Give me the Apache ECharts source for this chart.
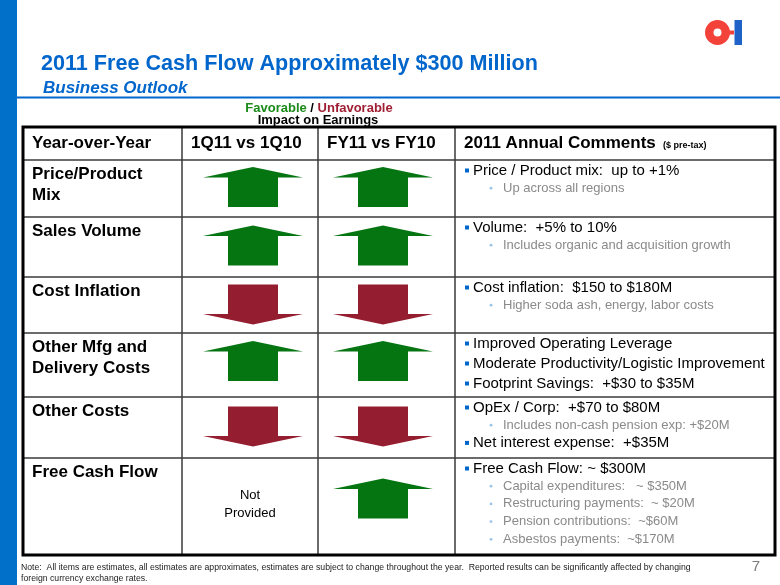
<!DOCTYPE html>
<html><head><meta charset="utf-8">
<script src="https://cdn.jsdelivr.net/npm/echarts@6/dist/echarts.min.js"></script>
<style>html,body{margin:0;padding:0;background:#fff}#c{width:780px;height:585px}</style>
</head><body><div id="c"></div>
<script>
// ---------- content ----------
const titleText = '2011 Free Cash Flow Approximately $300 Million';
const subtitleText = 'Business Outlook';
const legendFavorable = 'Favorable';
const legendUnfavorable = 'Unfavorable';
const legendCaption = 'Impact on Earnings';
const headers = ['Year-over-Year', '1Q11 vs 1Q10', 'FY11 vs FY10', '2011 Annual Comments'];
const headerNote = '($ pre-tax)';
const rowLabels = [['Price/Product', 'Mix'], ['Sales Volume'], ['Cost Inflation'], ['Other Mfg and', 'Delivery Costs'], ['Other Costs'], ['Free Cash Flow']];
const impact1Q = ['up', 'up', 'down', 'up', 'down', null];
const impactFY = ['up', 'up', 'down', 'up', 'down', 'up'];
const notProvided = ['Not', 'Provided'];
const comments = [
  [[1, 'Price / Product mix:  up to +1%'], [2, 'Up across all regions']],
  [[1, 'Volume:  +5% to 10%'], [2, 'Includes organic and acquisition growth']],
  [[1, 'Cost inflation:  $150 to $180M'], [2, 'Higher soda ash, energy, labor costs']],
  [[1, 'Improved Operating Leverage'], [1, 'Moderate Productivity/Logistic Improvement'], [1, 'Footprint Savings:  +$30 to $35M']],
  [[1, 'OpEx / Corp:  +$70 to $80M'], [2, 'Includes non-cash pension exp: +$20M'], [1, 'Net interest expense:  +$35M']],
  [[1, 'Free Cash Flow: ~ $300M'], [2, 'Capital expenditures:   ~ $350M'], [2, 'Restructuring payments:  ~ $20M'], [2, 'Pension contributions:  ~$60M'], [2, 'Asbestos payments:  ~$170M']]
];
const noteLines = [
  'Note:  All items are estimates, all estimates are approximates, estimates are subject to change throughout the year.  Reported results can be significantly affected by changing',
  'foreign currency exchange rates.'
];
const pageNumber = '7';

// ---------- layout (pixels) ----------
const colEdges = [23, 182, 318, 455, 775];
const rowEdges = [127, 160, 217, 277, 333, 397, 458, 555];
const arrowX = [253, 383];
const arrowOffset = [27, 28.5, 27.5, 28, 29.5, 40.5];
const FONT = 'Liberation Sans, Arial, Helvetica, sans-serif';
const GREEN = '#057512';
const RED = '#951d30';
const BLUE = '#0066cc';

const UP = 'path://M50,0L100,10.5L75,10.5L75,40L25,40L25,10.5L0,10.5Z';
const DOWN = 'path://M25,0L75,0L75,29.5L100,29.5L50,40L0,29.5L25,29.5Z';

// ---------- marks ----------
const arrowData = [];
[impact1Q, impactFY].forEach((col, ci) => {
  col.forEach((d, ri) => {
    if (!d) return;
    arrowData.push({
      value: [arrowX[ci], rowEdges[ri + 1] + arrowOffset[ri]],
      symbol: d === 'up' ? UP : DOWN,
      itemStyle: { color: d === 'up' ? GREEN : RED, opacity: 1 }
    });
  });
});

function txt(x, y, text, font, fill, align) {
  return { type: 'text', style: { x, y, text, font, fill, align: align || 'left', verticalAlign: 'middle', textAlign: align || 'left', textVerticalAlign: 'middle' } };
}

function renderGrid(params, api) {
  const ch = [];
  const L = api.coord([colEdges[0], rowEdges[0]]);
  const R = api.coord([colEdges[colEdges.length - 1], rowEdges[rowEdges.length - 1]]);
  for (let i = 1; i < rowEdges.length - 1; i++) {
    const a = api.coord([colEdges[0], rowEdges[i]]);
    const b = api.coord([colEdges[colEdges.length - 1], rowEdges[i]]);
    ch.push({ type: 'line', shape: { x1: a[0], y1: a[1], x2: b[0], y2: b[1] }, style: { stroke: '#3a3a3a', lineWidth: 1.5 } });
  }
  for (let j = 1; j < colEdges.length - 1; j++) {
    const a = api.coord([colEdges[j], rowEdges[0]]);
    const b = api.coord([colEdges[j], rowEdges[rowEdges.length - 1]]);
    ch.push({ type: 'line', shape: { x1: a[0], y1: a[1], x2: b[0], y2: b[1] }, style: { stroke: '#3a3a3a', lineWidth: 1.5 } });
  }
  ch.push({ type: 'rect', shape: { x: L[0], y: L[1], width: R[0] - L[0], height: R[1] - L[1] }, style: { fill: 'none', stroke: '#000', lineWidth: 3 } });
  return { type: 'group', children: ch };
}

function renderRow(params, api) {
  const r = api.value(0);
  const ch = [];
  const top = rowEdges[r];
  if (r === 0) {
    const y = (rowEdges[0] + rowEdges[1]) / 2;
    headers.forEach((h, j) => {
      const p = api.coord([colEdges[j] + 9, y]);
      ch.push(txt(p[0], p[1], h, 'bold 17px ' + FONT, '#000'));
    });
    const p = api.coord([colEdges[3] + 208, y + 2]);
    ch.push(txt(p[0], p[1], headerNote, 'bold 9px ' + FONT, '#000'));
    return { type: 'group', children: ch };
  }
  const ri = r - 1;
  rowLabels[ri].forEach((line, k) => {
    const p = api.coord([colEdges[0] + 9, top + 14.5 + k * 21]);
    ch.push(txt(p[0], p[1], line, 'bold 17px ' + FONT, '#000'));
  });
  if (!impact1Q[ri]) {
    notProvided.forEach((line, k) => {
      const p = api.coord([(colEdges[1] + colEdges[2]) / 2, top + 37.5 + k * 18]);
      ch.push(txt(p[0], p[1], line, '13px ' + FONT, '#000', 'center'));
    });
  }
  let y = top + 10.5;
  comments[ri].forEach((c, k) => {
    if (k > 0) y += (c[0] === 1 && comments[ri][k - 1][0] === 1) ? 20 : 17.7;
    if (c[0] === 1) {
      const b = api.coord([colEdges[3] + 10, y]);
      ch.push({ type: 'rect', shape: { x: b[0], y: b[1] - 2, width: 4, height: 4 }, style: { fill: BLUE } });
      const p = api.coord([colEdges[3] + 18, y]);
      ch.push(txt(p[0], p[1], c[1], '15px ' + FONT, '#000'));
    } else {
      const b = api.coord([colEdges[3] + 36, y]);
      ch.push({ type: 'circle', shape: { cx: b[0], cy: b[1], r: 1.4 }, style: { fill: '#9cc3e8' } });
      const p = api.coord([colEdges[3] + 48, y]);
      ch.push(txt(p[0], p[1], c[1], '13px ' + FONT, '#8a8a8a'));
    }
  });
  return { type: 'group', children: ch };
}

const chart = echarts.init(document.getElementById('c'), null, { renderer: 'canvas' });
chart.setOption({
  animation: false,
  backgroundColor: '#fff',
  grid: { left: 0, top: 0, width: 780, height: 585 },
  xAxis: { type: 'value', min: 0, max: 780, show: false },
  yAxis: { type: 'value', min: 0, max: 585, inverse: true, show: false },
  graphic: [
    { type: 'rect', shape: { x: 0, y: 0, width: 17, height: 585 }, style: { fill: '#0070c8' } },
    { type: 'line', shape: { x1: 17, y1: 97.5, x2: 780, y2: 97.5 }, style: { stroke: BLUE, lineWidth: 2 } },
    { type: 'text', style: { x: 41, y: 64.5, text: titleText, font: 'bold 21.6px ' + FONT, fill: BLUE, verticalAlign: 'middle' } },
    { type: 'text', style: { x: 43, y: 88, text: subtitleText, font: 'italic bold 17px ' + FONT, fill: BLUE, verticalAlign: 'middle' } },
    { type: 'text', style: { x: 319, y: 108.5, text: '{g|' + legendFavorable + '} / {r|' + legendUnfavorable + '}', font: 'bold 13px ' + FONT, fill: '#000', align: 'center', verticalAlign: 'middle',
      rich: { g: { fill: '#1a8a1a', font: 'bold 13px ' + FONT }, r: { fill: '#a01e32', font: 'bold 13px ' + FONT } } } },
    { type: 'text', style: { x: 318, y: 120, text: legendCaption, font: 'bold 13px ' + FONT, fill: '#000', align: 'center', verticalAlign: 'middle' } },
    { type: 'text', style: { x: 21, y: 568, text: noteLines[0], font: '8.7px ' + FONT, fill: '#222', verticalAlign: 'middle' } },
    { type: 'text', style: { x: 21, y: 578.5, text: noteLines[1], font: '8.7px ' + FONT, fill: '#222', verticalAlign: 'middle' } },
    { type: 'text', style: { x: 756, y: 567, text: pageNumber, font: '15px ' + FONT, fill: '#7a7a7a', align: 'center', verticalAlign: 'middle' } },
    // logo
    { type: 'ring', shape: { cx: 717.5, cy: 32.5, r: 12.5, r0: 4 }, style: { fill: '#f2423a' } },
    { type: 'rect', shape: { x: 725, y: 30.5, width: 9, height: 4 }, style: { fill: '#f2423a' } },
    { type: 'rect', shape: { x: 734.5, y: 20, width: 7.5, height: 25 }, style: { fill: '#1f63c9' } }
  ],
  series: [
    { type: 'custom', renderItem: renderGrid, data: [0], silent: true, z: 1 },
    { type: 'custom', renderItem: renderRow, data: rowEdges.slice(0, -1).map((_, i) => [i]), silent: true, z: 3 },
    { type: 'scatter', data: arrowData, symbolSize: [100, 40], silent: true, z: 2, itemStyle: { opacity: 1 }, emphasis: { disabled: true } }
  ]
});
</script></body></html>
